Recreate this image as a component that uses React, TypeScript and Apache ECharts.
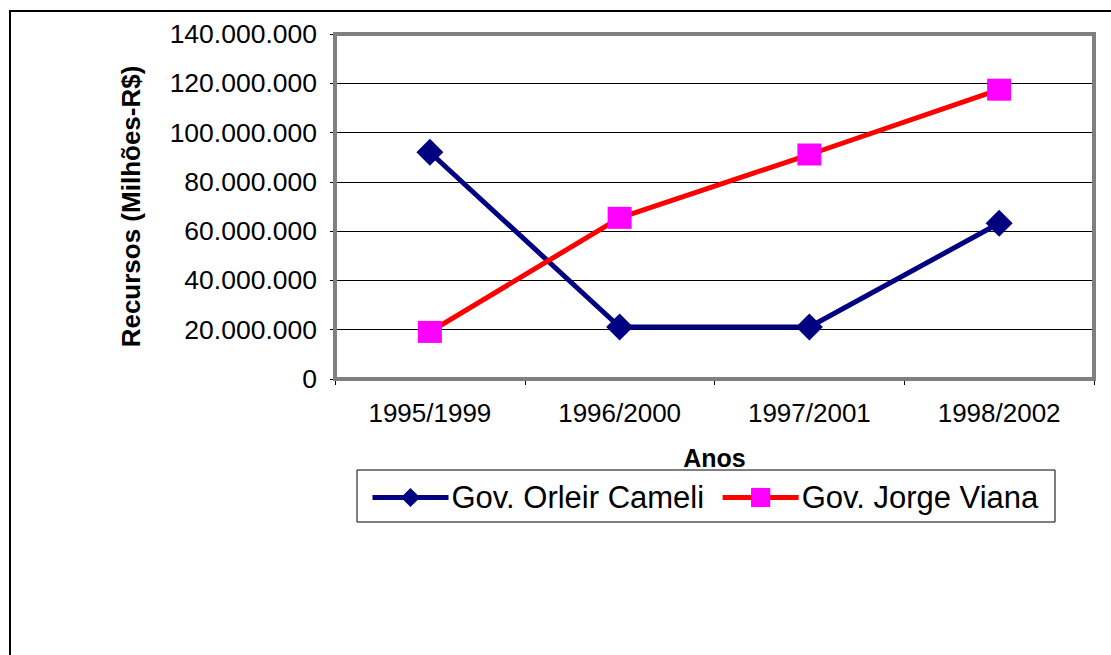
import React, { useEffect, useRef } from "react";
import * as echarts from "echarts";

const categories = ["1995/1999", "1996/2000", "1997/2001", "1998/2002"];
const orleirValues = [92000000, 21100000, 21100000, 63200000];
const jorgeValues = [19100000, 65400000, 91100000, 117400000];
const seriesNames = ["Gov. Orleir Cameli", "Gov. Jorge Viana"];
const yAxisTitle = "Recursos (Milhões-R$)";
const xAxisTitle = "Anos";

const FONT = "'Liberation Sans', Arial, sans-serif";

function fmt(v: number): string {
  return String(Math.round(v)).replace(/\B(?=(\d{3})+(?!\d))/g, ".");
}

export default function App() {
  const ref = useRef<HTMLDivElement>(null);
  useEffect(() => {
    if (!ref.current) return;
    const chart = echarts.init(ref.current, null, { renderer: "svg" });
    const gridL = 335, gridT = 34, gridR = 1094, gridB = 379;
    chart.setOption({
      animation: false,
      backgroundColor: "#fff",
      textStyle: { fontFamily: FONT },
      grid: { left: gridL, top: gridT, right: 1111 - gridR, bottom: 655 - gridB, containLabel: false },
      graphic: [
        {
          type: "rect",
          shape: { x: 10, y: 11, width: 1200, height: 800 },
          style: { fill: "none", stroke: "#000", lineWidth: 2 },
          silent: true,
          z: 0,
        },
        {
          type: "rect",
          shape: { x: gridL, y: gridT, width: gridR - gridL, height: gridB - gridT },
          style: { fill: "none", stroke: "#808080", lineWidth: 4 },
          silent: true,
          z: 1,
        },
        {
          type: "rect",
          shape: { x: 357, y: 470, width: 698, height: 52 },
          style: { fill: "#fff", stroke: "#000", lineWidth: 1 },
          silent: true,
          z: 1,
        },
      ],
      legend: {
        data: seriesNames,
        left: 365,
        top: 477,
        itemWidth: 76,
        itemHeight: 24,
        itemGap: 16,
        lineStyle: { width: 5 },
        textStyle: { fontFamily: FONT, fontSize: 31, color: "#000", padding: [0, 0, 0, -2] },
        z: 5,
      },
      xAxis: {
        type: "category",
        data: categories,
        boundaryGap: true,
        name: xAxisTitle,
        nameLocation: "middle",
        nameGap: 66,
        nameTextStyle: { fontFamily: FONT, fontSize: 25, fontWeight: "bold", color: "#000", verticalAlign: "top" },
        axisLine: { show: true, lineStyle: { color: "#000", width: 1 } },
        axisTick: { show: true, length: 6, lineStyle: { color: "#000" } },
        axisLabel: { fontFamily: FONT, fontSize: 26, color: "#000", margin: 21 },
        splitLine: { show: false },
      },
      yAxis: {
        type: "value",
        min: 0,
        max: 140000000,
        interval: 20000000,
        name: yAxisTitle,
        nameLocation: "middle",
        nameGap: 191,
        nameRotate: 90,
        nameTextStyle: { fontFamily: FONT, fontSize: 26, fontWeight: "bold", color: "#000" },
        axisLine: { show: true, lineStyle: { color: "#000", width: 1 } },
        axisTick: { show: true, length: 5, lineStyle: { color: "#000" } },
        axisLabel: { fontFamily: FONT, fontSize: 26.5, color: "#000", margin: 18, formatter: (v: number) => fmt(v) },
        splitLine: { show: true, lineStyle: { color: "#000", width: 1 } },
      },
      series: [
        {
          name: seriesNames[0],
          type: "line",
          data: orleirValues,
          symbol: "diamond",
          symbolSize: 27,
          lineStyle: { color: "#000080", width: 5 },
          itemStyle: { color: "#000080" },
          z: 3,
        },
        {
          name: seriesNames[1],
          type: "line",
          data: jorgeValues,
          symbol: "rect",
          symbolSize: [24, 22],
          lineStyle: { color: "#FF0000", width: 5 },
          itemStyle: { color: "#FF00FF" },
          z: 4,
        },
      ],
    });
    return () => chart.dispose();
  }, []);
  return (
    <div
      ref={ref}
      style={{ position: "absolute", left: 0, top: 0, width: 1111, height: 655 }}
    />
  );
}
